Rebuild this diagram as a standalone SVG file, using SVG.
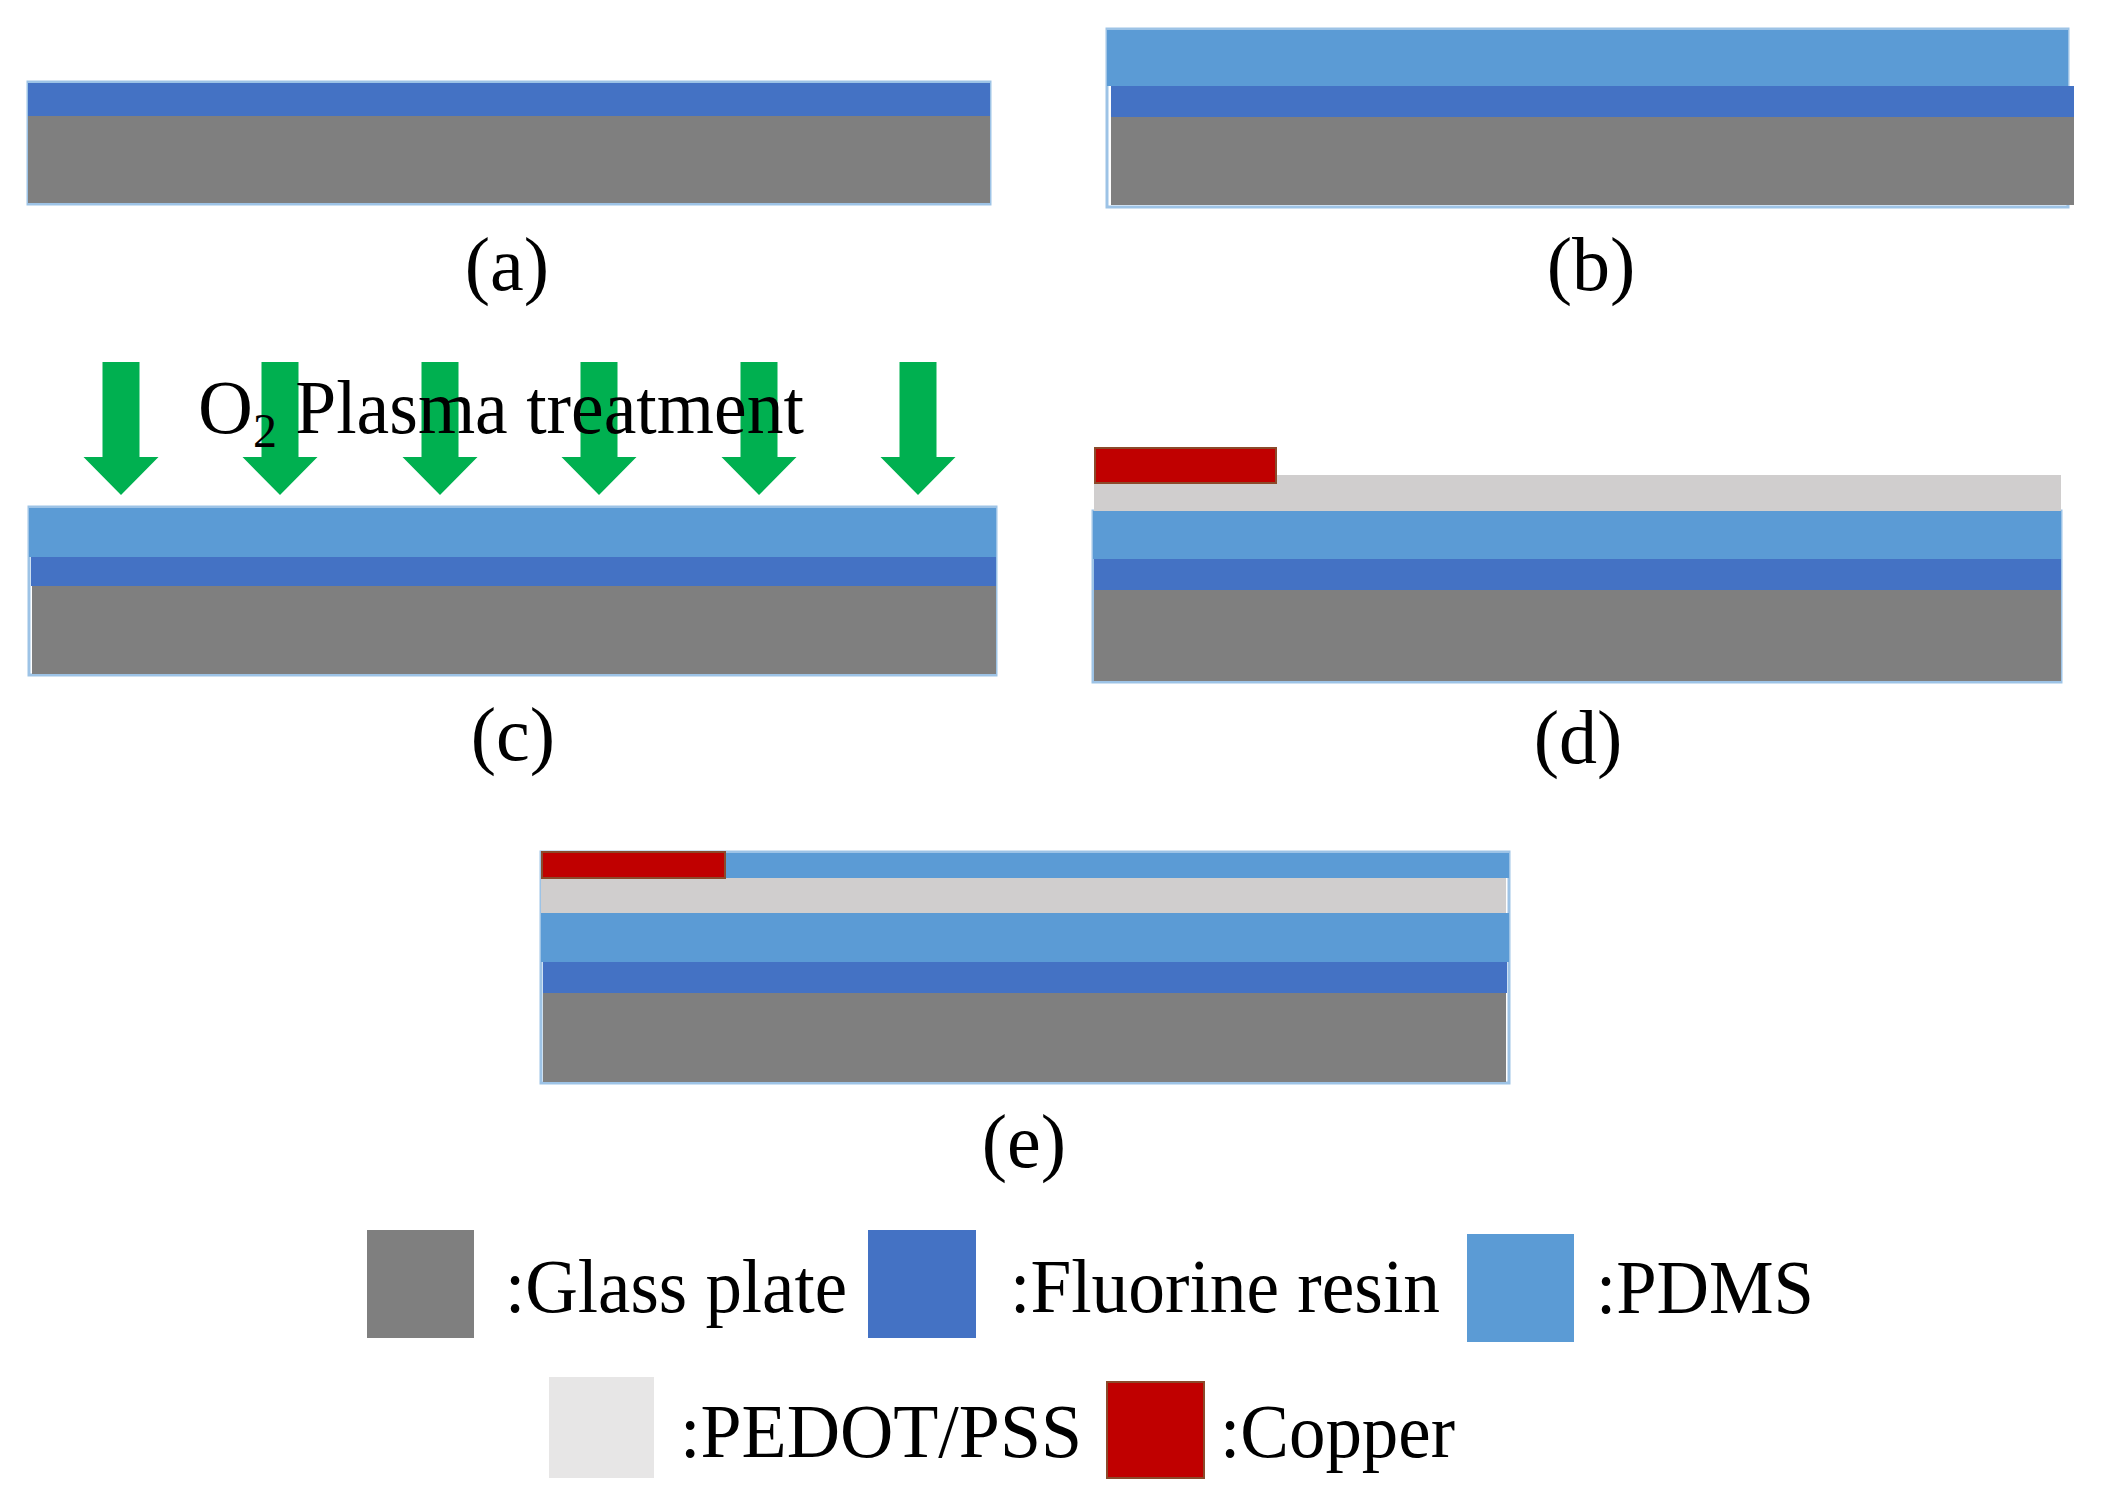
<svg xmlns="http://www.w3.org/2000/svg" xmlns:xlink="http://www.w3.org/1999/xlink" width="2104" height="1505" viewBox="0 0 2104 1505">
<style>
.glass{fill:#7F7F7F}
.fluo{fill:#4472C4}
.pdms{fill:#5B9BD5}
.pedot{fill:#D0CECE}
.cu{fill:#C00000;stroke:#8B4A2B;stroke-width:2}
.edge{fill:none;stroke:#9DC3E6;stroke-width:3}
.lbl{font-family:"Liberation Serif","Times New Roman",serif;font-size:76px;fill:#000}
.arrow{fill:#00B050}
</style>
<defs>
<path id="arr" d="M-18.5,0 H18.5 V95 H37.5 L0,133 L-37.5,95 H-18.5 Z"/>
</defs>
<rect width="2104" height="1505" fill="#fff"/>

<g id="panel-a">
<rect class="edge" x="28" y="82" width="962" height="122"/>
<rect class="fluo" x="28" y="83" width="962" height="33"/>
<rect class="glass" x="28" y="116" width="962" height="87"/>
<text class="lbl" x="507" y="290" text-anchor="middle">(a)</text>
</g>

<g id="panel-b">
<rect class="edge" x="1107" y="29" width="961" height="178"/>
<rect class="pdms" x="1107" y="30" width="961" height="56"/>
<rect class="fluo" x="1111" y="86" width="963" height="31"/>
<rect class="glass" x="1111" y="117" width="963" height="88"/>
<text class="lbl" x="1591" y="290" text-anchor="middle">(b)</text>
</g>

<g id="panel-c">
<rect class="edge" x="29" y="507" width="967" height="168"/>
<rect class="pdms" x="29" y="508" width="967" height="49"/>
<rect class="fluo" x="31" y="557" width="965" height="29"/>
<rect class="glass" x="32" y="586" width="964" height="88"/>
<g id="arrows">
<use xlink:href="#arr" class="arrow" x="121" y="362"/>
<use xlink:href="#arr" class="arrow" x="280" y="362"/>
<use xlink:href="#arr" class="arrow" x="440" y="362"/>
<use xlink:href="#arr" class="arrow" x="599" y="362"/>
<use xlink:href="#arr" class="arrow" x="759" y="362"/>
<use xlink:href="#arr" class="arrow" x="918" y="362"/>
</g>
<text class="lbl" x="198" y="433" font-size="75">O<tspan font-size="48" dy="14">2</tspan><tspan dy="-14" textLength="527" lengthAdjust="spacingAndGlyphs"> Plasma treatment</tspan></text>
<text class="lbl" x="513" y="760" text-anchor="middle">(c)</text>
</g>

<g id="panel-d">
<rect class="edge" x="1093" y="511" width="968" height="171"/>
<rect class="pedot" x="1094" y="475" width="967" height="36"/>
<rect class="pdms" x="1093" y="511" width="968" height="48"/>
<rect class="fluo" x="1094" y="559" width="967" height="31"/>
<rect class="glass" x="1094" y="590" width="967" height="91"/>
<rect class="cu" x="1095" y="448" width="181" height="35"/>
<text class="lbl" x="1578" y="763" text-anchor="middle">(d)</text>
</g>

<g id="panel-e">
<rect class="edge" x="541" y="852" width="968" height="231"/>
<rect class="pdms" x="542" y="853" width="967" height="25"/>
<rect class="pedot" x="541" y="878" width="965" height="35"/>
<rect class="pdms" x="541" y="913" width="968" height="49"/>
<rect class="fluo" x="543" y="962" width="964" height="31"/>
<rect class="glass" x="543" y="993" width="963" height="89"/>
<rect class="cu" x="542" y="852" width="183" height="26"/>
<text class="lbl" x="1024" y="1167" text-anchor="middle">(e)</text>
</g>

<g id="legend">
<rect class="glass" x="367" y="1230" width="107" height="108"/>
<text class="lbl" x="505" y="1312" textLength="342" lengthAdjust="spacingAndGlyphs">:Glass plate</text>
<rect class="fluo" x="868" y="1230" width="108" height="108"/>
<text class="lbl" x="1010" y="1312" textLength="430" lengthAdjust="spacingAndGlyphs">:Fluorine resin</text>
<rect class="pdms" x="1467" y="1234" width="107" height="108"/>
<text class="lbl" x="1596" y="1313" textLength="218" lengthAdjust="spacingAndGlyphs">:PDMS</text>
<rect x="549" y="1377" width="105" height="101" fill="#E7E6E6"/>
<text class="lbl" x="680" y="1457" textLength="402" lengthAdjust="spacingAndGlyphs">:PEDOT/PSS</text>
<rect class="cu" x="1107" y="1382" width="97" height="96"/>
<text class="lbl" x="1220" y="1457" textLength="235" lengthAdjust="spacingAndGlyphs">:Copper</text>
</g>
</svg>
